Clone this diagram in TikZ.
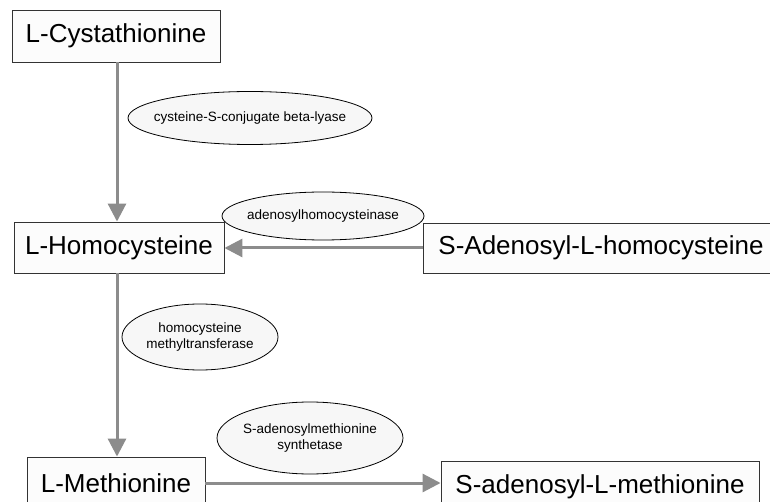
\documentclass[tikz,border=0pt]{standalone}
\usepackage{fontspec}
\setmainfont{Liberation Sans}
\usetikzlibrary{shapes.geometric,arrows.meta}
\definecolor{linegray}{HTML}{8C8C8C}
\definecolor{boxline}{HTML}{333333}
\definecolor{boxfill}{HTML}{FCFCFC}
\definecolor{ellfill}{HTML}{F7F7F7}
\begin{document}
\begin{tikzpicture}[x=1pt,y=-1pt,
  mbox/.style={draw=boxline,fill=boxfill,line width=0.9pt,inner sep=0pt,font=\fontsize{26}{30}\selectfont},
  enz/.style={ellipse,draw=black,fill=ellfill,line width=0.8pt,inner sep=-40pt,align=center,font=\fontsize{13.5}{16}\selectfont},
  conn/.style={draw=linegray,line width=3pt,-{Triangle[length=18pt,width=18pt]}}]
\useasboundingbox (0,0) rectangle (770,502);
\fill[white] (0,0) rectangle (770,502);
% metabolites
\node[mbox,minimum width=208pt,minimum height=52pt] (cys) at (116,36) {L-Cystathionine};
\node[mbox,minimum width=210pt,minimum height=51pt] (hcy) at (119,247.5) {L-Homocysteine};
\node[mbox,minimum width=356pt,minimum height=50pt] (sah) at (601,248) {S-Adenosyl-L-homocysteine};
\node[mbox,minimum width=178pt,minimum height=52pt] (met) at (116,483) {L-Methionine};
\node[mbox,minimum width=318pt,minimum height=52pt] (sam) at (600,487) {S-adenosyl-L-methionine};
% connectors
\draw[conn] (cys.south -| 117,0) -- (hcy.north -| 117,0);
\draw[conn] (sah.west) -- (hcy.east |- sah.west);
\draw[conn] (hcy.south -| 117,0) -- (met.north -| 117,0);
\draw[conn] (met.east |- 0,483) -- (sam.west |- 0,483);
% enzymes
\node[enz,minimum width=244pt,minimum height=53pt] (e1) at (250,118) {cysteine-S-conjugate beta-lyase};
\node[enz,minimum width=202pt,minimum height=48pt] (e2) at (323,216) {adenosylhomocysteinase};
\node[enz,minimum width=156pt,minimum height=66pt] (e3) at (200,337) {homocysteine\\methyltransferase};
\node[enz,minimum width=186pt,minimum height=72pt] (e4) at (310,438) {S-adenosylmethionine\\synthetase};
\end{tikzpicture}
\end{document}
